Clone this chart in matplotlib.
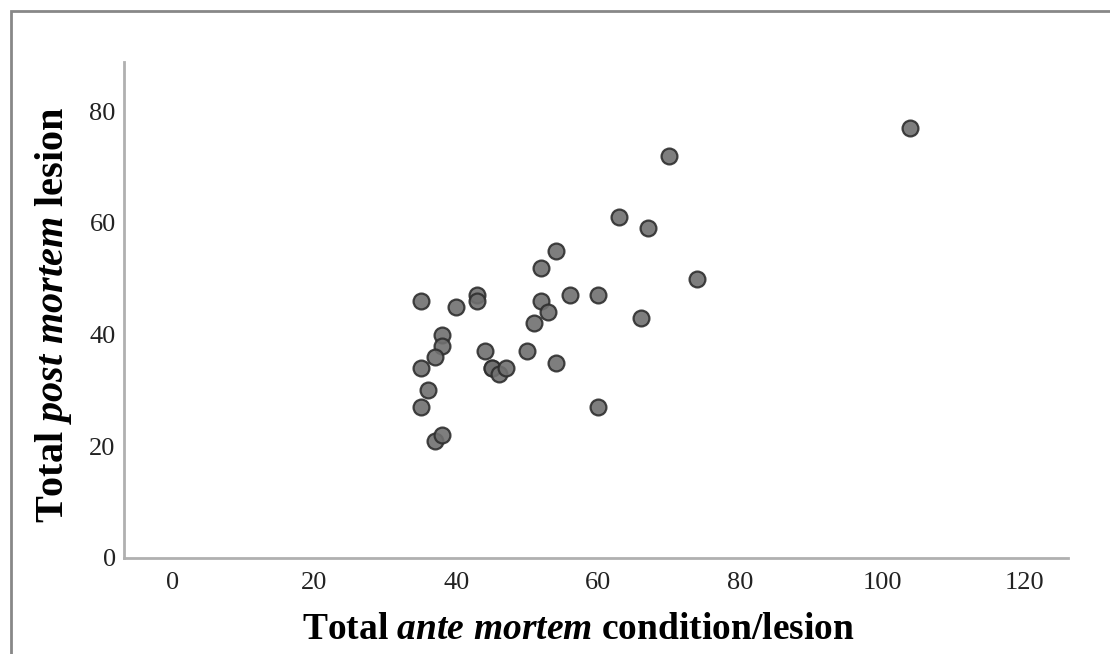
import matplotlib
matplotlib.use("Agg")
import matplotlib.pyplot as plt
from matplotlib.patches import Rectangle

plt.rcParams["font.family"] = ["Liberation Serif", "DejaVu Serif"]
plt.rcParams["mathtext.fontset"] = "custom"
plt.rcParams["mathtext.rm"] = "Liberation Serif:bold"
plt.rcParams["mathtext.it"] = "Liberation Serif:italic:bold"

# total ante mortem condition/lesion vs total post mortem lesion
ante_mortem = [104, 70, 63, 67, 74, 54, 52, 56, 60, 52, 53, 51, 66, 54, 60, 50,
               43, 43, 40, 35, 38, 38, 37, 35, 44, 45, 45, 46, 47, 36, 35, 37, 38]
post_mortem = [77, 72, 61, 59, 50, 55, 52, 47, 47, 46, 44, 42, 43, 35, 27, 37,
               47, 46, 45, 46, 40, 38, 36, 34, 37, 34, 34, 33, 34, 30, 27, 21, 22]
x_ticks = [0, 20, 40, 60, 80, 100, 120]
y_ticks = [0, 20, 40, 60, 80]

W, H = 1110, 654
fig = plt.figure(figsize=(W / 100, H / 100), dpi=100)
ax = fig.add_axes([124 / W, (H - 558) / H, (1068 - 124) / W, (558 - 62) / H])

ax.scatter(ante_mortem, post_mortem, s=130, facecolor="#707070",
           edgecolor="#2e2e2e", linewidth=1.6, alpha=0.9, zorder=3)

ax.set_xlim(-6.8, 126.2)
ax.set_ylim(0, 88.8)
ax.set_xticks(x_ticks)
ax.set_yticks(y_ticks)
ax.tick_params(axis="both", length=0, labelsize=19, colors="#222222")
ax.tick_params(axis="x", pad=10)
ax.tick_params(axis="y", pad=6)

for side in ("top", "right"):
    ax.spines[side].set_visible(False)
for side in ("left", "bottom"):
    ax.spines[side].set_color("#b0b0b0")
    ax.spines[side].set_linewidth(2)

ax.set_xlabel(r"Total $\it{ante\ mortem}$ condition/lesion", fontsize=27,
              fontweight="bold", labelpad=13)
ax.set_ylabel(r"Total $\it{post\ mortem}$ lesion", fontsize=29,
              fontweight="bold", labelpad=11)
# labels sit slightly off-centre in the original
ax.xaxis.label.set_x(0.481)
ax.yaxis.label.set_y(0.49)

# grey frame around the figure (open on right and bottom)
fig.add_artist(Rectangle((11 / W, -0.1), 1.2, 1 - 11 / H + 0.1,
                         transform=fig.transFigure, fill=False,
                         edgecolor="#888888", linewidth=2))

fig.savefig("out.png", dpi=100)
